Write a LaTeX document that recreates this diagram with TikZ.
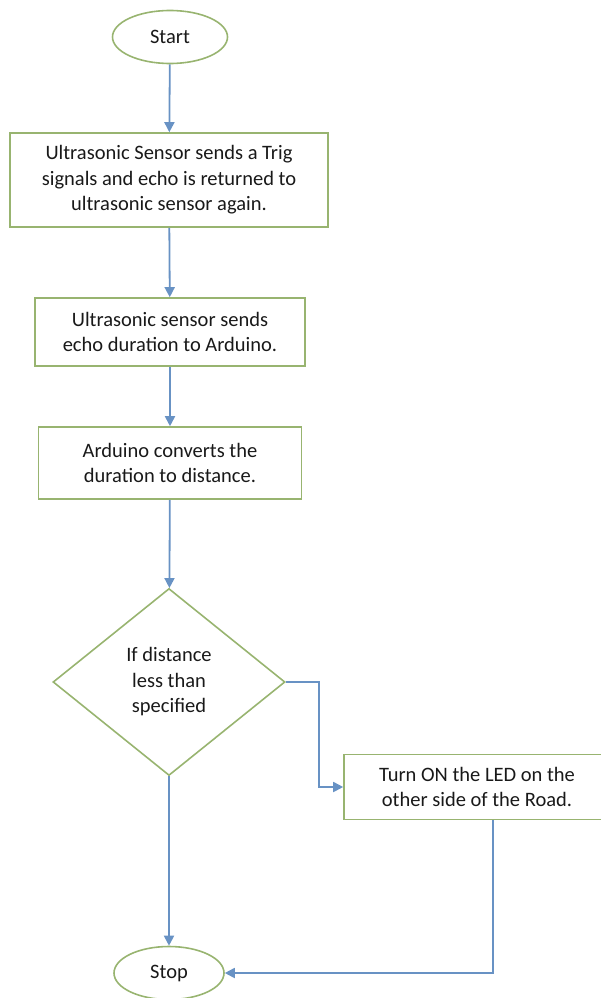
\documentclass[tikz,border=0pt]{standalone}
\usepackage{fontspec}
\setmainfont{Carlito}
\usetikzlibrary{shapes.geometric,arrows.meta}
\definecolor{boxgreen}{RGB}{152,180,112}
\definecolor{flowblue}{RGB}{104,146,196}
\begin{document}
\begin{tikzpicture}[x=1pt,y=-1pt,
    every node/.style={font=\fontsize{20.5}{25.5}\selectfont, text=black!90, align=center, inner sep=0pt},
    term/.style={ellipse, draw=boxgreen, line width=1.6pt, minimum width=115pt, minimum height=53pt},
    procbox/.style={rectangle, draw=boxgreen, line width=1.6pt},
    decide/.style={diamond, draw=boxgreen, line width=1.6pt, minimum width=232pt, minimum height=187pt},
    flow/.style={draw=flowblue, line width=1.8pt, -{Triangle[length=10pt,width=10pt]}}]
  \useasboundingbox (0,0) rectangle (601,998);
  \node[term] (start) at (170,37) {Start};
  \node[procbox, minimum width=318pt, minimum height=94pt] (trig) at (169,180)
    {Ultrasonic Sensor sends a Trig\\ signals and echo is returned to\\ ultrasonic sensor again.};
  \node[procbox, minimum width=270pt, minimum height=68pt] (echo) at (170,332)
    {Ultrasonic sensor sends\\ echo duration to Arduino.};
  \node[procbox, minimum width=263pt, minimum height=72pt] (conv) at (170,463)
    {Arduino converts the\\ duration to distance.};
  \node[decide] (cond) at (169,682) {If distance\\ less than\\ specified};
  \node[procbox, minimum width=266pt, minimum height=65pt] (led) at (477,787)
    {Turn ON the LED on the\\ other side of the Road.};
  \node[term, minimum width=110pt] (stop) at (169,973) {Stop};
  % connectors
  \draw[flow] (start) -- (trig);
  \draw[flow] (trig) -- (echo);
  \draw[flow] (echo) -- (conv);
  \draw[flow] (conv) -- (cond);
  \draw[flow] (cond.east) -- ++(33,0) |- (led.west);
  \draw[flow] (cond.south) -- (stop.north);
  \draw[flow] ([xshift=16pt]led.south) |- (stop.east);
\end{tikzpicture}
\end{document}
